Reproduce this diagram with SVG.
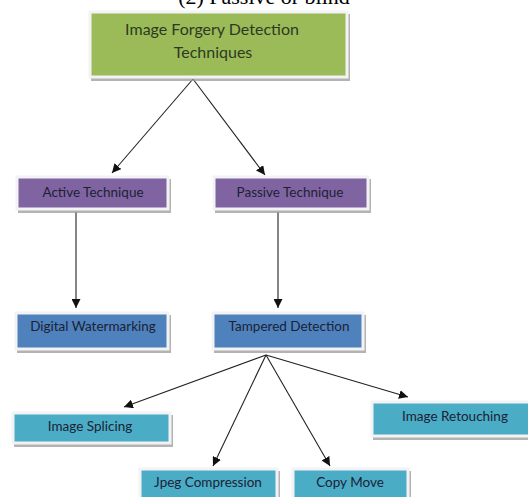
<svg xmlns="http://www.w3.org/2000/svg" width="528" height="497" viewBox="0 0 528 497">
  <style>
    .shadow { fill: #9a9a9a; opacity: 0.75; }
    .box { stroke: #f3f3f5; stroke-width: 3; }
    .green { fill: #9bbb59; }
    .purple { fill: #8064a2; }
    .blue { fill: #4f81bd; }
    .teal { fill: #4bacc6; }
    .lbl { font-family: Lato, "Liberation Sans", sans-serif; font-size: 13.5px; fill: #1b2235; text-anchor: middle; }
    .title { font-family: Lato, "Liberation Sans", sans-serif; font-size: 16px; fill: #2c3a22; text-anchor: middle; }
    .cap { font-family: "Liberation Serif", serif; font-size: 22px; fill: #000; text-anchor: middle; }
    .edge { stroke: #222; stroke-width: 1.1; fill: none; marker-end: url(#arr); }
  </style>
  <defs>
    <marker id="arr" markerUnits="userSpaceOnUse" markerWidth="10" markerHeight="9" refX="9" refY="4.5" orient="auto">
      <path d="M0,0 L9,4.5 L0,9 Z" fill="#111"/>
    </marker>
  </defs>
  <rect width="528" height="497" fill="#fff"/>
  <text class="cap" x="264" y="4">(2) Passive or blind</text>

  <g id="connectors">
    <line class="edge" x1="193" y1="79" x2="112" y2="173"/>
    <line class="edge" x1="193" y1="79" x2="265" y2="175"/>
    <line class="edge" x1="76" y1="212" x2="76" y2="308"/>
    <line class="edge" x1="278" y1="212" x2="278" y2="308"/>
    <line class="edge" x1="266" y1="355" x2="124" y2="407"/>
    <line class="edge" x1="266" y1="355" x2="213" y2="466"/>
    <line class="edge" x1="266" y1="355" x2="330" y2="466"/>
    <line class="edge" x1="266" y1="355" x2="408" y2="397"/>
  </g>

  <g id="root">
    <rect class="shadow" x="91" y="14" width="259" height="67"/>
    <rect class="box green" x="90" y="12" width="257" height="65"/>
    <text class="title" x="212" y="35">Image Forgery Detection</text>
    <text class="title" x="213" y="58">Techniques</text>
  </g>

  <g id="active">
    <rect class="shadow" x="18" y="179" width="153" height="34"/>
    <rect class="box purple" x="17" y="177" width="151" height="32"/>
    <text class="lbl" x="93" y="197">Active Technique</text>
  </g>

  <g id="passive">
    <rect class="shadow" x="215" y="179" width="156" height="34"/>
    <rect class="box purple" x="214" y="177" width="154" height="32"/>
    <text class="lbl" x="290" y="197">Passive Technique</text>
  </g>

  <g id="watermarking">
    <rect class="shadow" x="17" y="315" width="154" height="38"/>
    <rect class="box blue" x="16" y="313" width="152" height="36"/>
    <text class="lbl" x="93" y="331">Digital Watermarking</text>
  </g>

  <g id="tampered">
    <rect class="shadow" x="214" y="315" width="152" height="38"/>
    <rect class="box blue" x="213" y="313" width="150" height="36"/>
    <text class="lbl" x="289" y="331">Tampered Detection</text>
  </g>

  <g id="splicing">
    <rect class="shadow" x="14" y="415" width="159" height="32"/>
    <rect class="box teal" x="13" y="413" width="157" height="30"/>
    <text class="lbl" x="90" y="431">Image Splicing</text>
  </g>

  <g id="retouching">
    <rect class="shadow" x="373" y="404" width="165" height="36"/>
    <rect class="box teal" x="372" y="402" width="165" height="34"/>
    <text class="lbl" x="455" y="421">Image Retouching</text>
  </g>

  <g id="jpeg">
    <rect class="shadow" x="141" y="471" width="139" height="34"/>
    <rect class="box teal" x="140" y="469" width="137" height="34"/>
    <text class="lbl" x="208" y="487">Jpeg Compression</text>
  </g>

  <g id="copymove">
    <rect class="shadow" x="294" y="471" width="117" height="34"/>
    <rect class="box teal" x="293" y="469" width="115" height="34"/>
    <text class="lbl" x="350" y="487">Copy Move</text>
  </g>
</svg>
